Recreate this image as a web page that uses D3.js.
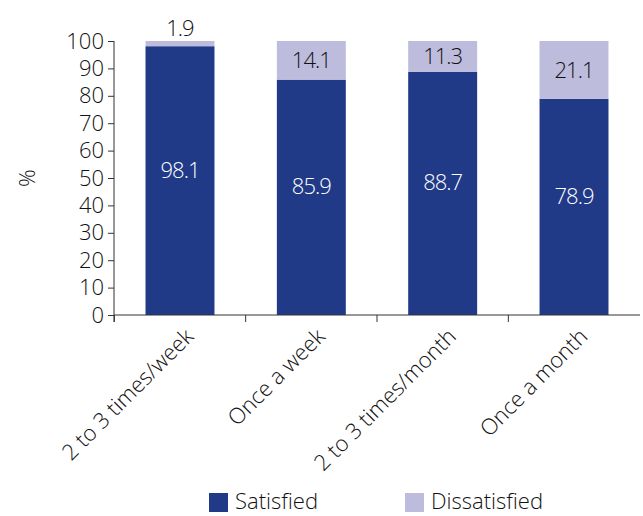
<!DOCTYPE html>
<html>
<head>
<meta charset="utf-8">
<script src="https://cdn.jsdelivr.net/npm/d3@7"></script>
<style>
  body { margin: 0; background: #fff; }
  text { font-family: "Open Sans", sans-serif; font-weight: 300; }
</style>
</head>
<body>
<svg id="chart" width="643" height="516"></svg>
<script>
var categories = ["2 to 3 times/week", "Once a week", "2 to 3 times/month", "Once a month"];
var satisfied = [98.1, 85.9, 88.7, 78.9];
var dissatisfied = [1.9, 14.1, 11.3, 21.1];
var yTicks = [0, 10, 20, 30, 40, 50, 60, 70, 80, 90, 100];
var seriesNames = ["Satisfied", "Dissatisfied"];

var colors = { "Satisfied": "#203a87", "Dissatisfied": "#bdbcdd" };

var svg = d3.select("#chart");
var mLeft = 114, mRight = 640, mTop = 41, mBottom = 315;
var fs = 22;

var x = d3.scaleBand().domain(categories).range([mLeft, mRight]).paddingInner(0.475).paddingOuter(0.24);
var y = d3.scaleLinear().domain([0, 100]).range([mBottom, mTop]);

// stacked data
var rows = categories.map(function(c, i) {
  return { cat: c, Satisfied: satisfied[i], Dissatisfied: dissatisfied[i] };
});
var stack = d3.stack().keys(seriesNames)(rows);

svg.append("g").selectAll("g")
  .data(stack).enter().append("g")
  .attr("fill", function(d) { return colors[d.key]; })
  .selectAll("rect")
  .data(function(d) { return d; }).enter().append("rect")
  .attr("x", function(d) { return x(d.data.cat); })
  .attr("width", x.bandwidth())
  .attr("y", function(d) { return y(d[1]); })
  .attr("height", function(d) { return y(d[0]) - y(d[1]); });

// value labels
stack.forEach(function(s) {
  svg.append("g").selectAll("text")
    .data(s).enter().append("text")
    .attr("x", function(d) { return x(d.data.cat) + x.bandwidth() / 2; })
    .attr("y", function(d) {
      var h = y(d[0]) - y(d[1]);
      var mid = (y(d[0]) + y(d[1])) / 2;
      if (h < 20) return y(d[1]) - 5;  // too small: above bar
      return s.key == "Satisfied" ? mid - 3 : mid + 8;
    })
    .attr("text-anchor", "middle")
    .attr("font-size", fs)
    .attr("letter-spacing", -1)
    .attr("fill", s.key == "Satisfied" ? "#fff" : "#111")
    .text(function(d) { return (d[1] - d[0]).toFixed(1); });
});

// y axis
var yAxis = svg.append("g")
  .attr("transform", "translate(" + mLeft + ",0)")
  .call(d3.axisLeft(y).tickValues(yTicks).tickSize(6).tickPadding(4));
yAxis.select(".domain").attr("d", "M0," + mTop + "V" + (mBottom + 7));
yAxis.selectAll("text").attr("font-size", fs).attr("fill", "#111");
yAxis.selectAll("line, path").attr("stroke", "#333");

// x axis line + ticks at category boundaries
var gap = x.step() - x.bandwidth();
var xg = svg.append("g");
xg.append("line").attr("x1", mLeft).attr("x2", mRight).attr("y1", mBottom).attr("y2", mBottom).attr("stroke", "#333");
xg.selectAll(".tk")
  .data(categories).enter().append("line")
  .attr("x1", function(d) { return x(d) - gap / 2; })
  .attr("x2", function(d) { return x(d) - gap / 2; })
  .attr("y1", mBottom).attr("y2", mBottom + 7).attr("stroke", "#333");

// rotated category labels
xg.selectAll(".lbl")
  .data(categories).enter().append("text")
  .attr("transform", function(d) {
    return "translate(" + (x(d) + x.bandwidth() / 2 + 4) + "," + (mBottom + 12) + ") rotate(-45)";
  })
  .attr("text-anchor", "end")
  .attr("dy", "0.7em")
  .attr("font-size", fs)
  .attr("fill", "#111")
  .text(function(d) { return d; });

// y label
svg.append("text")
  .attr("transform", "translate(35,178) rotate(-90)")
  .attr("text-anchor", "middle")
  .attr("font-size", fs)
  .attr("fill", "#111")
  .text("%");

// legend
var legendX = [209, 405];
var lg = svg.append("g").selectAll("g")
  .data(seriesNames).enter().append("g")
  .attr("transform", function(d, i) { return "translate(" + legendX[i] + ",493)"; });
lg.append("rect").attr("width", 19).attr("height", 19).attr("fill", function(d) { return colors[d]; });
lg.append("text").attr("x", 26).attr("y", 16).attr("font-size", fs).attr("fill", "#111").text(function(d) { return d; });
</script>
</body>
</html>
